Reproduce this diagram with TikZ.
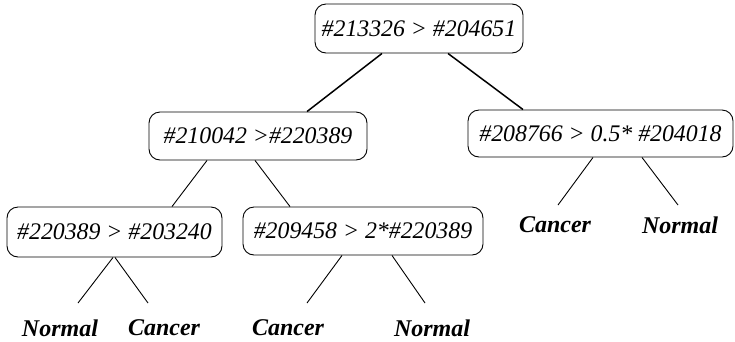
\documentclass[tikz,border=0pt]{standalone}
\usepackage{fontspec}
\setmainfont{Liberation Serif}
\begin{document}
\begin{tikzpicture}[x=1pt,y=-1pt,
  test/.style={draw,line width=0.9pt,rounded corners=11pt,inner sep=0pt,
    font=\fontsize{23.8}{28}\selectfont\itshape},
  leaf/.style={inner sep=0pt,font=\fontsize{24}{28}\selectfont\bfseries\itshape},
  thick edge/.style={line width=1.5pt},
  thin edge/.style={line width=0.9pt}]
\useasboundingbox (0,0) rectangle (735,341);
\node[test,minimum width=208pt,minimum height=49pt] (root) at (419,28.5) {\#213326 > \#204651};
\node[test,minimum width=265pt,minimum height=47pt] (R) at (600.5,133.5) {\#208766 > 0.5* \#204018};
\node[test,minimum width=218pt,minimum height=48pt] (L) at (258,136) {\#210042 >\#220389};
\node[test,minimum width=215pt,minimum height=50pt] (LL) at (114.5,232) {\#220389 > \#203240};
\node[test,minimum width=240pt,minimum height=48pt] (LR) at (363,231) {\#209458 > 2*\#220389};
% leaves
\node[leaf] (rc) at (555,225) {Cancer};
\node[leaf] (rn) at (680,225) {Normal};
\node[leaf] (lln) at (60,328) {Normal};
\node[leaf] (llc) at (164,328) {Cancer};
\node[leaf] (lrc) at (288,328) {Cancer};
\node[leaf] (lrn) at (432,328) {Normal};
% leaf line ends
\coordinate (rcE) at (558,205);
\coordinate (rnE) at (678,205);
\coordinate (llnE) at (78,303);
\coordinate (llcE) at (148,303);
\coordinate (lrcE) at (307,303);
\coordinate (lrnE) at (425,303);
% connectors
\draw[thick edge] ([xshift=-37pt]root.south) -- ([xshift=49pt]L.north);
\draw[thick edge] ([xshift=29pt]root.south) -- ([xshift=-77.5pt]R.north);
\draw[thin edge] ([xshift=-51pt]L.south) -- ([xshift=57.5pt]LL.north);
\draw[thin edge] ([xshift=-3pt]L.south) -- ([xshift=-73pt]LR.north);
\draw[thin edge] ([xshift=-7.5pt]R.south) -- (rcE);
\draw[thin edge] ([xshift=41.5pt]R.south) -- (rnE);
\draw[thin edge] ([xshift=-1.5pt]LL.south) -- (llnE);
\draw[thin edge] ([xshift=0.5pt]LL.south) -- (llcE);
\draw[thin edge] ([xshift=-21pt]LR.south) -- (lrcE);
\draw[thin edge] ([xshift=29pt]LR.south) -- (lrnE);
\end{tikzpicture}
\end{document}
